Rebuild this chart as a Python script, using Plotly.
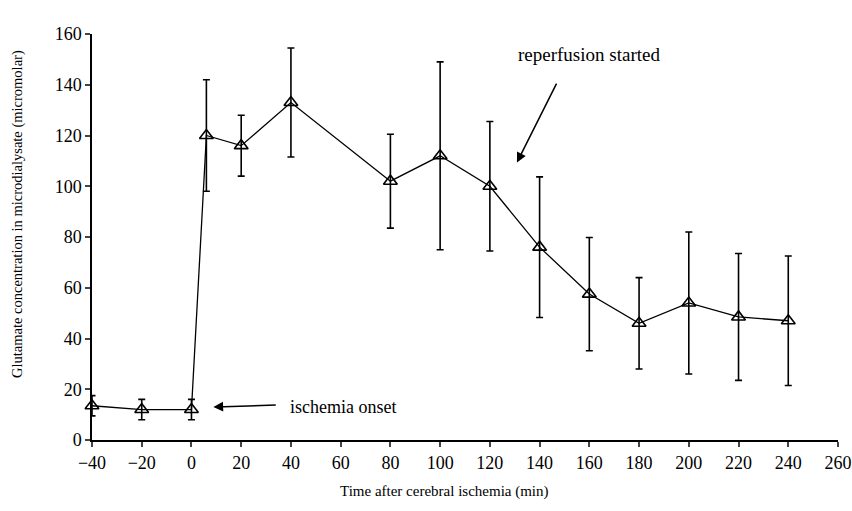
import plotly.graph_objects as go

time_min = [-40, -20, 0, 6, 20, 40, 80, 100, 120, 140, 160, 180, 200, 220, 240]
glutamate = [13.5, 12, 12, 120, 116, 133, 102, 112, 100, 76, 57.5, 46, 54, 48.5, 47]
err = [4, 4, 4, 22, 12, 21.5, 18.5, 37, 25.5, 27.7, 22.3, 18, 28, 25, 25.5]
x_ticks = list(range(-40, 261, 20))
y_ticks = list(range(0, 161, 20))

FONT = "Liberation Serif"

fig = go.Figure()
fig.add_trace(go.Scatter(
    x=time_min, y=glutamate, mode="lines+markers",
    line=dict(color="black", width=1.3),
    marker=dict(symbol="triangle-up-open", size=12, color="black", line=dict(width=1.6)),
    error_y=dict(type="data", array=err, visible=True, color="black", thickness=1.6, width=3.5),
    showlegend=False, cliponaxis=False,
))

fig.update_layout(
    width=852, height=511,
    margin=dict(l=92, r=14, t=34, b=71),
    plot_bgcolor="white", paper_bgcolor="white",
    font=dict(family=FONT, size=18, color="black"),
    xaxis=dict(range=[-40, 260], tickvals=x_ticks, ticks="outside", ticklen=5, tickwidth=1.5,
               showline=True, linecolor="black", linewidth=2, showgrid=False, zeroline=False,
               automargin=False, ticklabeloverflow="allow", tickfont=dict(family=FONT, size=18)),
    yaxis=dict(range=[0, 160], tickvals=y_ticks, ticks="outside", ticklen=5, tickwidth=1.5,
               showline=True, linecolor="black", linewidth=1.5, showgrid=False, zeroline=False,
               automargin=False, tickfont=dict(family=FONT, size=18)),
    annotations=[
        dict(text="Time after cerebral ischemia (min)", xref="paper", yref="paper",
             x=0.473, y=-0.128, showarrow=False, font=dict(family=FONT, size=15),
             xanchor="center", yanchor="middle"),
        dict(text="Glutamate concentration in microdialysate (micromolar)", xref="paper", yref="paper",
             x=-0.099, y=0.557, showarrow=False, textangle=-90, font=dict(family=FONT, size=14.5),
             xanchor="center", yanchor="middle"),
        dict(text="ischemia onset", x=60.8, y=13, xref="x", yref="y", showarrow=False,
             font=dict(family=FONT, size=18)),
        dict(text="", x=8.8, y=13, xref="x", yref="y", ax=34.5, ay=13.8, axref="x", ayref="y",
             showarrow=True, arrowhead=2, arrowsize=1.3, arrowwidth=1.5, arrowcolor="black"),
        dict(text="reperfusion started", x=160, y=152, xref="x", yref="y", showarrow=False,
             font=dict(family=FONT, size=19)),
        dict(text="", x=130.9, y=109.4, xref="x", yref="y", ax=147.1, ay=141, axref="x", ayref="y",
             showarrow=True, arrowhead=2, arrowsize=1.3, arrowwidth=1.5, arrowcolor="black"),
    ],
)

fig.write_html(
    "out.html",
    config={"displayModeBar": False},
    post_script="document.body.style.margin='0';document.body.style.overflow='hidden';",
)
